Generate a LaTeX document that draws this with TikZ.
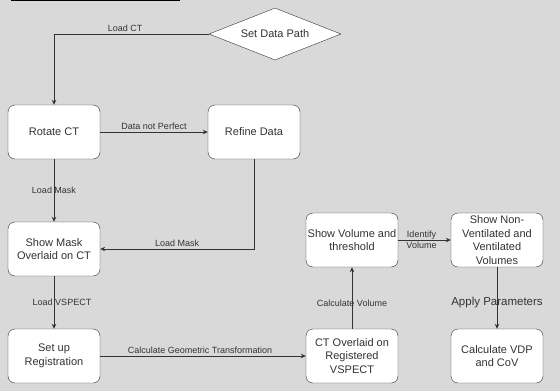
\documentclass[tikz,border=0pt]{standalone}
\usepackage{fontspec}
\setmainfont{Liberation Sans}
\usetikzlibrary{arrows.meta,shapes.geometric}
\definecolor{bggray}{HTML}{D9D9D9}
\definecolor{inkgray}{HTML}{333333}
\tikzset{
	stepbox/.style={draw=inkgray,fill=white,rounded corners=7pt,minimum width=92pt,minimum height=54pt,
		inner sep=0pt,align=center,font=\fontsize{11}{13.5}\selectfont,text=inkgray},
	choice/.style={draw=inkgray,fill=white,diamond,aspect=2.54,minimum width=132pt,minimum height=52pt,
		inner sep=0pt,font=\fontsize{11}{13}\selectfont,text=inkgray},
	flow/.style={draw=inkgray,line width=1pt,-{Stealth[length=5pt,width=4.5pt]}},
	edgelbl/.style={font=\fontsize{9}{10.5}\selectfont,text=inkgray,inner sep=2pt}
}
\begin{document}
\begin{tikzpicture}[x=1pt,y=-1pt]
		\fill[bggray] (0,0) rectangle (560,391);
		\useasboundingbox (0,0) rectangle (560,391);
		% cut-off heading rule
		\draw[line width=1.5pt] (11,0.5) -- (180,0.5);
		
		\node[choice] (path) at (275,34) {Set Data Path};
		\node[stepbox] (rot) at (54,132) {Rotate CT};
		\node[stepbox] (refine) at (254,132) {Refine Data};
		\node[stepbox] (mask) at (54,249) {Show Mask\\Overlaid on CT};
		\node[stepbox] (setup) at (54,356) {Set up\\Registration};
		\node[stepbox] (overlay) at (352,356) {CT Overlaid on\\Registered\\VSPECT};
		\node[stepbox] (vol) at (352,240) {Show Volume and\\threshold};
		\node[stepbox] (vent) at (497,240) {Show Non-\\Ventilated and\\Ventilated\\Volumes};
		\node[stepbox] (vdp) at (497,356) {Calculate VDP\\and CoV};
		
		% labels that the lines run through
		\path (rot.south) -- (mask.north) node[edgelbl,midway] (masklbl) {Load Mask};
		\path (overlay.north) -- (vol.south) node[edgelbl,pos=0.42] (vollbl) {Calculate Volume};
		\path (vent.south) -- (vdp.north) node[edgelbl,pos=0.58,font=\fontsize{11.5}{13}\selectfont] (paramlbl) {Apply Parameters};
		
		\draw[flow] (path.west) -| (rot.north) node[edgelbl,pos=0.27,above] {Load CT};
		\draw[flow] (rot.east) -- (refine.west) node[edgelbl,midway,above] {Data not Perfect};
		\draw[flow] (rot.south) -- (mask.north);
		\draw[flow] (refine.south) |- (mask.east) node[edgelbl,pos=0.75,above] {Load Mask};
		\draw[flow] (mask.south) -- (setup.north) node[edgelbl,midway,xshift=8pt] {Load VSPECT};
		\draw[flow] (setup.east) -- (overlay.west) node[edgelbl,midway,above,xshift=-3pt] {Calculate Geometric Transformation};
		\draw[flow] (overlay.north) -- (vol.south);
		\draw[flow] (vol.east) -- (vent.west) node[edgelbl,midway,align=center,xshift=-3pt] {Identify\\Volume};
		\draw[flow] (vent.south) -- (vdp.north);
\end{tikzpicture}
\end{document}
